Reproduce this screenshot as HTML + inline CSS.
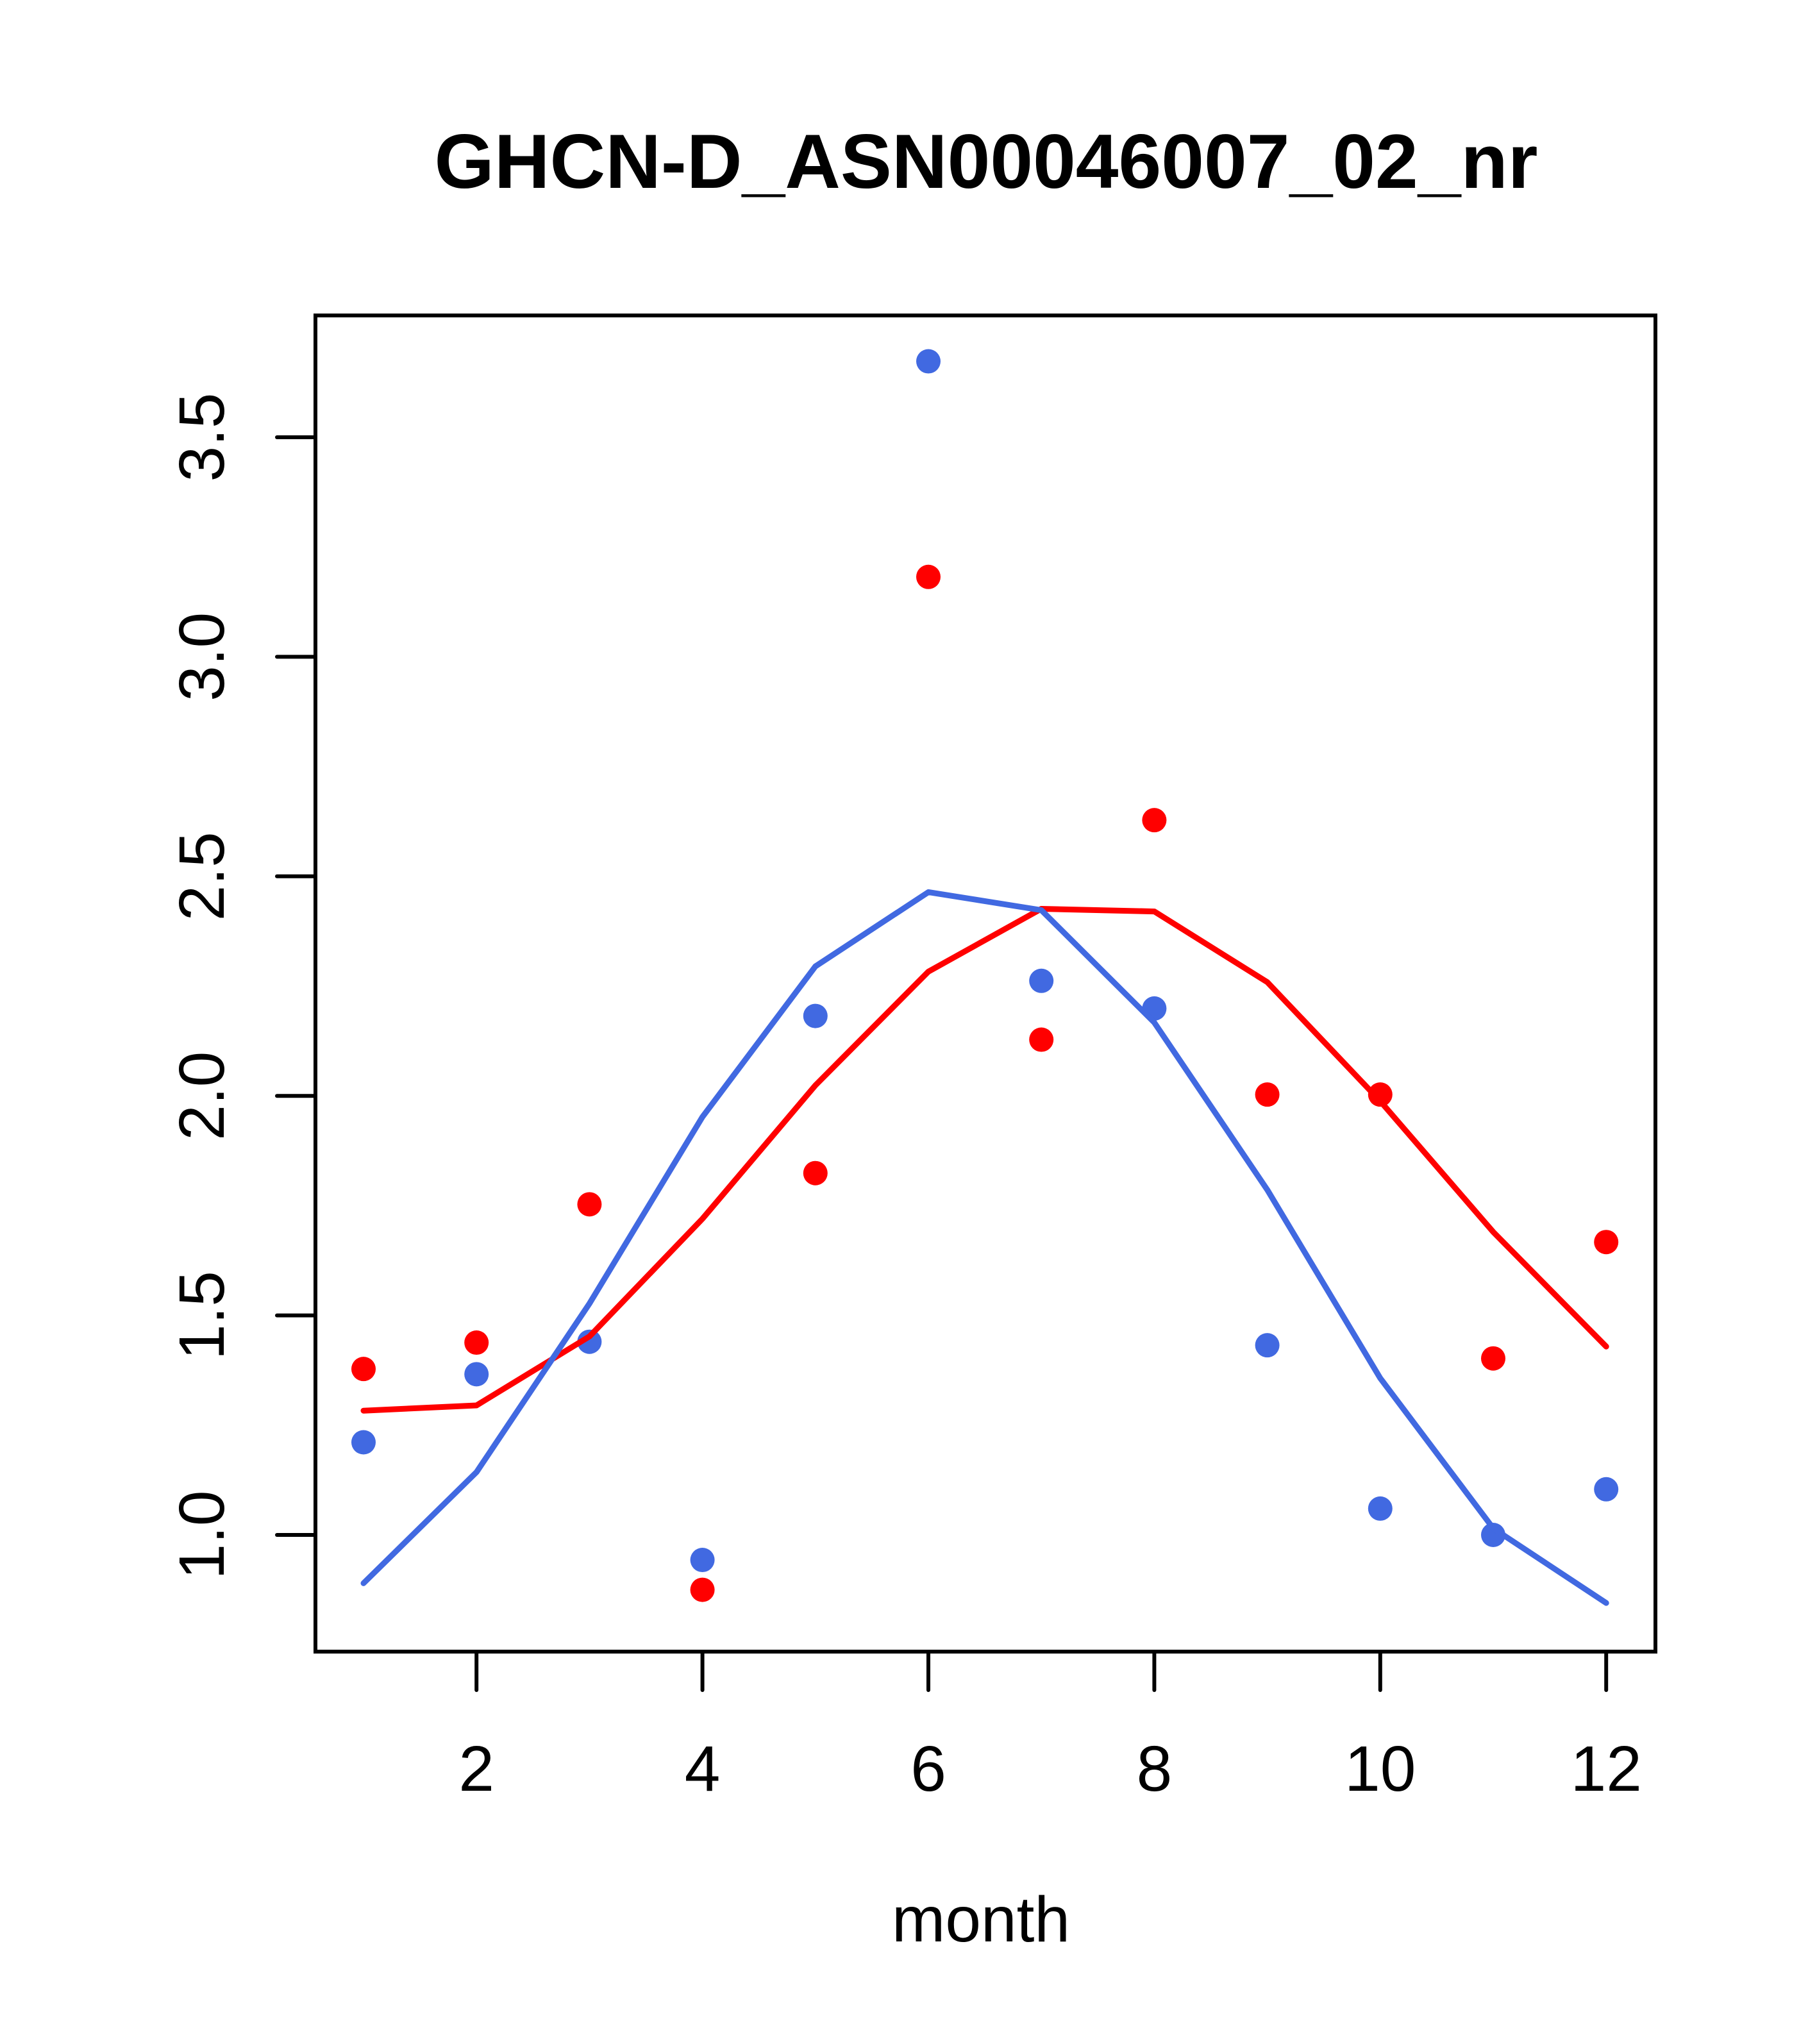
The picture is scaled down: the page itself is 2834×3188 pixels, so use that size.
<!DOCTYPE html>
<html><head><meta charset="utf-8"><style>
html,body{margin:0;padding:0;background:#fff}
svg{display:block}
text{font-family:"Liberation Sans",sans-serif;fill:#000}
</style></head><body>
<svg id="chart" width="2834" height="3188" viewBox="0 0 2834 3188" xmlns="http://www.w3.org/2000/svg">
<rect x="0" y="0" width="2834" height="3188" fill="#fff"/>
<text x="1538" y="293" font-size="120" font-weight="bold" text-anchor="middle">GHCN-D_ASN00046007_02_nr</text>
<text x="1530" y="3028" font-size="100" text-anchor="middle">month</text>
<g id="plot"></g>
</svg>
<script>
const months = [1,2,3,4,5,6,7,8,9,10,11,12];
const redPoints = [1.378,1.438,1.753,0.875,1.824,3.182,2.128,2.628,2.003,2.003,1.402,1.667];
const bluePoints = [1.211,1.366,1.440,0.943,2.182,3.673,2.262,2.199,1.432,1.060,1.000,1.104];
const redLine = [1.283,1.295,1.452,1.720,2.024,2.283,2.426,2.420,2.259,1.988,1.690,1.429];
const blueLine = [0.890,1.143,1.527,1.952,2.295,2.464,2.423,2.167,1.786,1.357,1.015,0.845];
const xTicks = [2,4,6,8,10,12];
const yTicks = [1.0,1.5,2.0,2.5,3.0,3.5];
const yTickLabels = ["1.0","1.5","2.0","2.5","3.0","3.5"];

const NS = "http://www.w3.org/2000/svg";
const g = document.getElementById('plot');
const xs = v => 567 + (v - 1) * 176.2;
const ys = v => 682 - (v - 3.5) * 684.8;
function mk(tag, attrs){const e=document.createElementNS(NS,tag);for(const k in attrs)e.setAttribute(k,attrs[k]);g.appendChild(e);return e;}

const box = mk('rect',{x:492,y:492,width:2090,height:2084,fill:'none',stroke:'#000','stroke-width':6});



xTicks.forEach(t=>{
  const l = mk('line',{x1:xs(t),x2:xs(t),y1:2576,y2:2636,stroke:'#000','stroke-width':6,'stroke-linecap':'round'});
  
  
  const tx = mk('text',{x:xs(t),y:2793,'font-size':100,'text-anchor':'middle'});
  tx.textContent = String(t);
  
  
});
yTicks.forEach((t,i)=>{
  const y = ys(t);
  const l = mk('line',{x1:432,x2:492,y1:y,y2:y,stroke:'#000','stroke-width':6,'stroke-linecap':'round'});
  
  
  const tx = mk('text',{x:349,y:y,'font-size':100,'text-anchor':'middle',transform:`rotate(-90 349 ${y})`});
  tx.textContent = yTickLabels[i];
  
  
});

function line(vals,color,name){
  const p = mk('polyline',{points:months.map((m,i)=>xs(m)+','+ys(vals[i])).join(' '),fill:'none',stroke:color,'stroke-width':9,'stroke-linejoin':'round','stroke-linecap':'round'});
  
  
}
function pts(vals,color,name){
  months.forEach((m,i)=>{
    const c = mk('circle',{cx:xs(m),cy:ys(vals[i]),r:19,fill:color});
    
    
  });
}
pts(redPoints,'#ff0000','red-point');
pts(bluePoints,'#4169e1','blue-point');
line(redLine,'#ff0000','red-line');
line(blueLine,'#4169e1','blue-line');
</script>
</body></html>
